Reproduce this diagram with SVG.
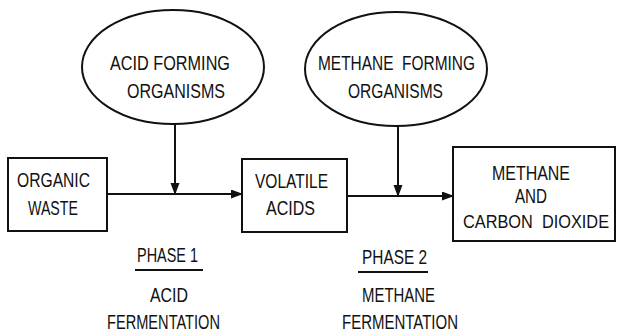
<svg xmlns="http://www.w3.org/2000/svg" width="617" height="333" viewBox="0 0 617 333">
<defs>
<style>
.s{fill:none;stroke:#111;stroke-width:2}
.t{font-family:"Liberation Sans",Arial,sans-serif;font-size:20px;fill:#111;white-space:pre}
.c{stroke:#111;stroke-width:2;fill:none}
</style>
<marker id="ah" markerWidth="12" markerHeight="10" refX="11" refY="4.5" orient="auto" markerUnits="userSpaceOnUse">
<path d="M0,0 L12,4.5 L0,9 Z" fill="#111"/>
</marker>
</defs>
<rect width="617" height="333" fill="#fff"/>
<g id="acid-organisms">
<ellipse class="s" cx="173" cy="67" rx="91" ry="57"/>
<text class="t" x="110" y="70" textLength="120" lengthAdjust="spacingAndGlyphs">ACID FORMING</text>
<text class="t" x="127" y="98" textLength="98" lengthAdjust="spacingAndGlyphs">ORGANISMS</text>
</g>
<g id="methane-organisms">
<ellipse class="s" cx="396" cy="69" rx="91" ry="57"/>
<text class="t" x="318" y="70" textLength="157" lengthAdjust="spacingAndGlyphs" xml:space="preserve">METHANE  FORMING</text>
<text class="t" x="348" y="98" textLength="95" lengthAdjust="spacingAndGlyphs">ORGANISMS</text>
</g>
<g id="organic-waste">
<rect class="s" x="8" y="158" width="99" height="73"/>
<text class="t" x="17" y="187" textLength="73" lengthAdjust="spacingAndGlyphs">ORGANIC</text>
<text class="t" x="28" y="215" textLength="50" lengthAdjust="spacingAndGlyphs">WASTE</text>
</g>
<g id="volatile-acids">
<rect class="s" x="242" y="159" width="105" height="73"/>
<text class="t" x="255" y="188" textLength="73" lengthAdjust="spacingAndGlyphs">VOLATILE</text>
<text class="t" x="266" y="215" textLength="49" lengthAdjust="spacingAndGlyphs">ACIDS</text>
</g>
<g id="methane-co2">
<rect class="s" x="453" y="147" width="162" height="94"/>
<text class="t" x="492" y="180" textLength="78" lengthAdjust="spacingAndGlyphs">METHANE</text>
<text class="t" x="515" y="203" textLength="32" lengthAdjust="spacingAndGlyphs">AND</text>
<text class="t" transform="translate(463,228) scale(0.86,1)" x="0" y="0" style="font-size:19px" xml:space="preserve">CARBON  DIOXIDE</text>
</g>
<g id="phase1">
<text class="t" x="137" y="262" textLength="61" lengthAdjust="spacingAndGlyphs">PHASE 1</text>
<line class="c" x1="135" y1="270" x2="203" y2="270"/>
<text class="t" x="150" y="302" textLength="38" lengthAdjust="spacingAndGlyphs">ACID</text>
<text class="t" x="107" y="329" textLength="113" lengthAdjust="spacingAndGlyphs">FERMENTATION</text>
</g>
<g id="phase2">
<text class="t" x="362" y="264" textLength="65" lengthAdjust="spacingAndGlyphs">PHASE 2</text>
<line class="c" x1="358" y1="272" x2="428" y2="272"/>
<text class="t" x="362" y="302" textLength="73" lengthAdjust="spacingAndGlyphs">METHANE</text>
<text class="t" x="342" y="329" textLength="116" lengthAdjust="spacingAndGlyphs">FERMENTATION</text>
</g>
<g id="connectors">
<line class="c" x1="107" y1="194" x2="242" y2="194" marker-end="url(#ah)"/>
<line class="c" x1="175" y1="124" x2="175" y2="194" marker-end="url(#ah)"/>
<line class="c" x1="347" y1="196" x2="453" y2="196" marker-end="url(#ah)"/>
<line class="c" x1="398" y1="126" x2="398" y2="196" marker-end="url(#ah)"/>
</g>
</svg>
